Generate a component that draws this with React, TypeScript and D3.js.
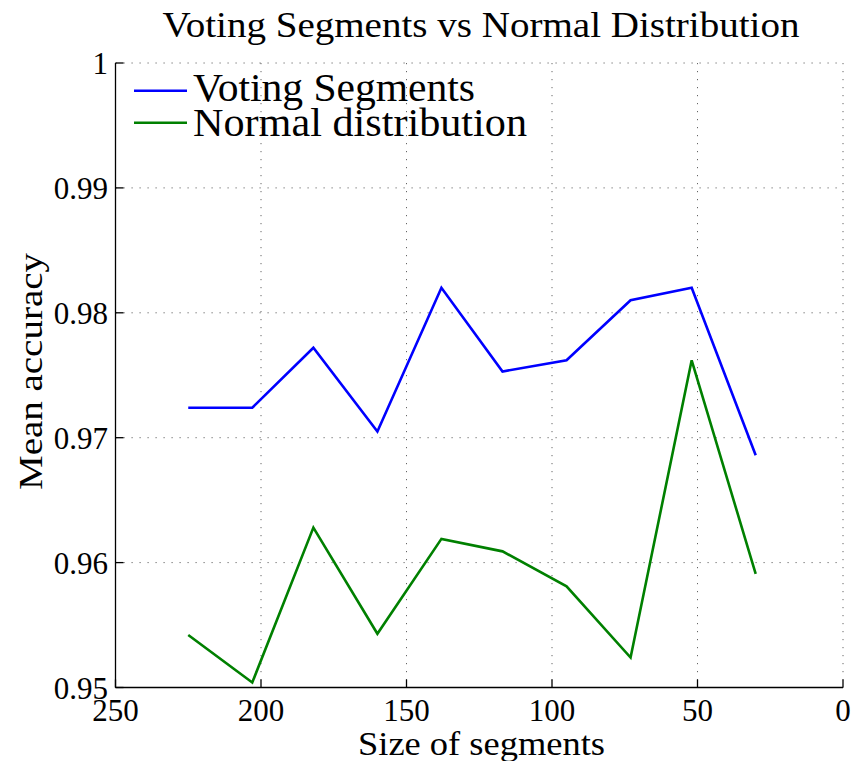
import React from 'react';
import * as d3 from 'd3';

// segment sizes (x) and mean accuracy for the two methods
const segmentSizes = [225, 203, 182, 160, 138, 117, 95, 73, 52, 30];
const votingSegments = [0.9724, 0.9724, 0.9772, 0.9705, 0.982, 0.9753, 0.9762, 0.981, 0.982, 0.9686];
const normalDistribution = [0.9542, 0.9504, 0.9628, 0.9543, 0.9619, 0.9609, 0.9581, 0.9524, 0.9762, 0.9591];

const xTicks = [250, 200, 150, 100, 50, 0];
const yTicks = [0.95, 0.96, 0.97, 0.98, 0.99, 1];
const yTickLabels = ['0.95', '0.96', '0.97', '0.98', '0.99', '1'];

const seriesNames = ['Voting Segments', 'Normal distribution'];
const seriesColors = ['#0000ff', '#008000'];

const FONT = '"Liberation Serif", "Times New Roman", serif';

const App: React.FC = () => {
  const width = 852;
  const height = 761;
  const left = 115.5;
  const right = 843;
  const top = 63;
  const bottom = 687.5;

  const x = d3.scaleLinear().domain([250, 0]).range([left, right]);
  const y = d3.scaleLinear().domain([0.95, 1]).range([bottom, top]);

  const line = d3
    .line<number>()
    .x((_, i) => x(segmentSizes[i]))
    .y((d) => y(d));

  const series = [votingSegments, normalDistribution];
  const tickLen = 8;

  return (
    <svg
      width={width}
      height={height}
      style={{ position: 'absolute', left: 0, top: 0, background: '#fff' }}
      fontFamily={FONT}
    >
      <rect width={width} height={height} fill="#fff" />

      {/* dotted grid */}
      <g stroke="#666" strokeWidth={1} strokeDasharray="1.2,6.8" fill="none">
        {xTicks.map((t) => (
          <line key={'gx' + t} x1={x(t)} x2={x(t)} y1={top} y2={bottom} />
        ))}
        {yTicks.map((t) => (
          <line key={'gy' + t} x1={left} x2={right} y1={y(t)} y2={y(t)} />
        ))}
      </g>

      {/* data lines */}
      {series.map((s, i) => (
        <path
          key={seriesNames[i]}
          d={line(s) || ''}
          fill="none"
          stroke={seriesColors[i]}
          strokeWidth={2.6}
          strokeLinejoin="miter"
        />
      ))}

      {/* axes */}
      <g stroke="#000" strokeWidth={1.3}>
        <line x1={left} x2={left} y1={top} y2={bottom} />
        <line x1={left} x2={right} y1={bottom} y2={bottom} />
        {xTicks.map((t) => (
          <line key={'tx' + t} x1={x(t)} x2={x(t)} y1={bottom} y2={bottom - tickLen} />
        ))}
        {yTicks.map((t) => (
          <line key={'ty' + t} x1={left} x2={left + tickLen} y1={y(t)} y2={y(t)} />
        ))}
      </g>

      {/* tick labels */}
      <g fontSize={31} fill="#000">
        {xTicks.map((t) => (
          <text key={'lx' + t} x={x(t)} y={721} textAnchor="middle">
            {t}
          </text>
        ))}
        {yTicks.map((t, i) => (
          <text key={'ly' + t} x={108} y={y(t) + 11} textAnchor="end">
            {yTickLabels[i]}
          </text>
        ))}
      </g>

      {/* title and axis labels */}
      <text x={481} y={37} fontSize={36} textAnchor="middle" textLength={637} lengthAdjust="spacingAndGlyphs">
        Voting Segments vs Normal Distribution
      </text>
      <text x={481.5} y={755} fontSize={33} textAnchor="middle" textLength={247} lengthAdjust="spacingAndGlyphs">
        Size of segments
      </text>
      <text
        transform={`translate(42,${371.5}) rotate(-90)`}
        fontSize={33}
        textAnchor="middle"
        textLength={237}
        lengthAdjust="spacingAndGlyphs"
      >
        Mean accuracy
      </text>

      {/* legend */}
      {seriesNames.map((name, i) => {
        const ly = [90.7, 122.7][i];
        return (
          <g key={'leg' + name}>
            <line x1={134} x2={187} y1={ly} y2={ly} stroke={seriesColors[i]} strokeWidth={2.6} />
            <text
              x={193}
              y={ly + 10.5 + i * 2.5}
              fontSize={40}
              textLength={[282, 334][i]}
              lengthAdjust="spacingAndGlyphs"
            >
              {name}
            </text>
          </g>
        );
      })}
    </svg>
  );
};

export default App;
